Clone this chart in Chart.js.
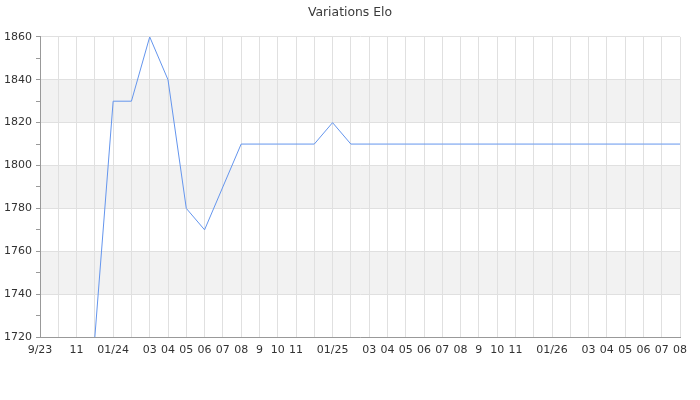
<!DOCTYPE html>
<html>
<head>
<meta charset="utf-8">
<script src="https://cdn.jsdelivr.net/npm/chart.js@4"></script>
<style>
  html, body { margin: 0; padding: 0; background: #fff; }
  #wrap { width: 700px; height: 400px; }
</style>
</head>
<body>
<div id="wrap"><canvas id="chart-elo"></canvas></div>
<script>
// Months Sep 2023 -> Aug 2026, labels as shown on the axis ('' = hidden)
const months = ['9/23', '', '11', '', '01/24', '', '03', '04', '05', '06', '07', '08',
    '9', '10', '11', '', '01/25', '', '03', '04', '05', '06', '07', '08',
    '9', '10', '11', '', '01/26', '', '03', '04', '05', '06', '07', '08'];

// Elo per month
const elo = [null, null, null, 1720, 1830, 1830, 1860, 1840, 1780, 1770, 1790, 1810,
    1810, 1810, 1810, 1810, 1820, 1810, 1810, 1810, 1810, 1810, 1810, 1810,
    1810, 1810, 1810, 1810, 1810, 1810, 1810, 1810, 1810, 1810, 1810, 1810];

const yMin = 1720;
const yMax = 1860;
// shaded bands (from, to)
const bands = [[1740, 1760], [1780, 1800], [1820, 1840]];

const bandPlugin = {
    id: 'bands',
    beforeDraw(chart) {
        const { ctx, chartArea, scales } = chart;
        ctx.save();
        ctx.fillStyle = '#f2f2f2';
        bands.forEach(b => {
            const y1 = scales.y.getPixelForValue(b[1]);
            const y2 = scales.y.getPixelForValue(b[0]);
            ctx.fillRect(chartArea.left, y1, chartArea.right - chartArea.left, y2 - y1);
        });
        ctx.restore();
    }
};

const font = { family: 'DejaVu Sans', size: 11 };

new Chart(document.getElementById('chart-elo').getContext('2d'), {
    type: 'line',
    data: {
        labels: months,
        datasets: [{
            label: 'Elo',
            data: elo,
            borderColor: '#6495ed',
            borderWidth: 1,
            pointRadius: 0,
            tension: 0,
            fill: false
        }]
    },
    options: {
        responsive: true,
        maintainAspectRatio: false,
        animation: false,
        layout: { padding: 0 },
        plugins: {
            legend: { display: false },
            tooltip: { enabled: false },
            title: {
                display: true,
                text: 'Variations Elo',
                color: '#3a3a3a',
                font: { family: 'DejaVu Sans', size: 12.4, weight: 'normal' },
                padding: { top: 5, bottom: 17 }
            }
        },
        scales: {
            x: {
                grid: { color: '#e0e0e0', drawTicks: false },
                border: { color: '#999' },
                ticks: {
                    autoSkip: false,
                    maxRotation: 0,
                    color: '#333',
                    font: font,
                    padding: 7
                },
                afterFit(scale) { scale.height = 63; }
            },
            y: {
                min: yMin,
                max: yMax,
                grid: {
                    color: c => (c.tick && c.tick.value % 20 === 0) ? '#e0e0e0' : 'rgba(0,0,0,0)',
                    tickColor: '#999',
                    tickLength: 4
                },
                border: { color: '#999' },
                ticks: {
                    stepSize: 10,
                    color: '#333',
                    font: font,
                    padding: 4,
                    callback: v => (v % 20 === 0 ? v : '')
                },
                afterFit(scale) { scale.width = 40; }
            },
            // empty right-hand axis, only reserves space so the title stays centred
            yRight: {
                position: 'right',
                min: yMin,
                max: yMax,
                grid: { display: false },
                border: { display: false },
                ticks: { display: false },
                afterFit(scale) { scale.width = 20; }
            }
        }
    },
    plugins: [bandPlugin]
});
</script>
</body>
</html>
